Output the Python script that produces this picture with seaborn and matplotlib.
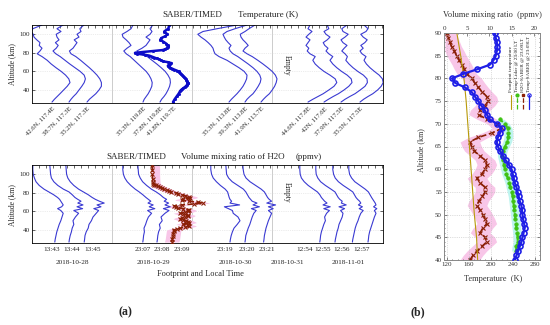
import numpy as np
import matplotlib
matplotlib.use("Agg")
import matplotlib.pyplot as plt
from matplotlib.ticker import MultipleLocator
import seaborn as sns

sns.set_theme(style="ticks")
plt.rcParams["font.family"] = ["Liberation Serif", "DejaVu Serif"]
plt.rcParams["axes.linewidth"] = 0.6

# altitude grids (km)
ALT_T = [27, 30, 33, 36, 40, 44, 48, 52, 56, 60, 64, 68, 72, 76, 79, 82, 85, 88, 91, 94, 97, 100, 103, 106, 110]
ALT_W = [27, 30, 34, 38, 42, 46, 50, 54, 58, 61, 63, 65, 67, 69, 71, 73, 75, 78, 81, 84, 88, 92, 96, 100, 105, 110]
ALT_B = list(range(40, 91))
ALT_L = list(range(42, 72))
ALT_F = [40, 45, 50, 55, 60, 65, 70, 75, 80, 85, 90]

# (a) top: SABER temperature profiles (K)
t_g1_a = [230, 236, 243, 250, 259, 268, 275, 272, 264, 253, 240, 228, 218, 205, 193, 200, 205, 198, 200, 192, 185, 183, 178, 182, 205]
t_g1_b = [230, 235, 241, 248, 255, 262, 268, 271, 268, 258, 245, 232, 220, 208, 197, 190, 198, 203, 196, 205, 200, 198, 210, 200, 215]
t_g1_c = [230, 236, 244, 252, 260, 266, 266, 262, 255, 246, 236, 225, 214, 202, 190, 186, 195, 200, 205, 198, 210, 205, 215, 212, 222]
t_g2_a = [230, 233, 238, 243, 248, 252, 253, 250, 245, 238, 228, 218, 208, 198, 188, 182, 190, 200, 195, 188, 180, 178, 190, 200, 205]
t_g2_b = [230, 234, 240, 245, 250, 254, 256, 255, 250, 243, 233, 222, 210, 198, 180, 172, 185, 195, 200, 205, 195, 205, 210, 205, 212]
t_g3_a = [230, 236, 243, 250, 258, 265, 270, 274, 275, 268, 255, 240, 225, 205, 195, 192, 190, 185, 178, 170, 160, 152, 165, 200, 250]
t_g3_b = [230, 235, 242, 250, 257, 263, 268, 270, 267, 260, 250, 238, 225, 212, 200, 193, 190, 195, 188, 182, 178, 175, 185, 205, 235]
t_g3_c = [230, 236, 243, 251, 258, 264, 268, 270, 266, 258, 247, 235, 222, 208, 195, 185, 190, 198, 192, 185, 180, 178, 190, 200, 215]
t_g5_a = [210, 222, 235, 248, 262, 275, 282, 278, 265, 250, 238, 228, 222, 228, 215, 208, 212, 205, 210, 215, 205, 212, 220, 210, 215]
t_g5_b = [210, 221, 233, 246, 260, 272, 280, 278, 268, 254, 242, 232, 225, 232, 222, 215, 220, 212, 208, 218, 225, 215, 210, 222, 218]
t_g5_c = [210, 220, 232, 245, 258, 270, 276, 275, 266, 252, 240, 230, 222, 226, 220, 212, 218, 225, 215, 210, 220, 228, 215, 212, 225]
t_g5_d = [210, 219, 230, 242, 254, 263, 268, 266, 258, 246, 235, 226, 220, 225, 215, 210, 218, 212, 222, 228, 218, 212, 225, 230, 220]

# (a) bottom: SABER H2O profiles (ppmv)
w_g1_a = [5.7, 5.8, 6.0, 6.2, 6.5, 6.8, 7.2, 7.5, 7.8, 7.2, 6.4, 7.4, 7.8, 7.5, 7.2, 6.9, 6.4, 5.4, 4.2, 3.0, 1.8, 1.0, 0.6, 0.3, 0.2, 0.2]
w_g1_b = [5.0, 5.1, 5.3, 5.6, 5.8, 6.2, 6.0, 6.6, 7.4, 6.2, 8.4, 7.0, 8.5, 7.2, 8.0, 7.2, 6.5, 5.8, 5.0, 3.6, 2.2, 1.2, 0.6, 0.4, 0.3, 0.2]
w_g1_c = [4.8, 4.9, 5.0, 5.3, 5.8, 6.0, 6.6, 7.0, 7.8, 8.4, 7.2, 9.0, 8.0, 9.8, 8.6, 7.6, 6.8, 5.8, 4.6, 3.4, 2.2, 1.3, 0.7, 0.4, 0.3, 0.2]
w_g2_a = [5.2, 5.3, 5.4, 5.6, 5.5, 5.9, 6.2, 6.6, 7.4, 6.4, 8.2, 6.8, 7.8, 6.5, 7.2, 6.6, 6.0, 5.2, 4.3, 3.3, 2.2, 1.3, 0.7, 0.35, 0.2, 0.2]
w_g2_b = [5.0, 5.1, 5.2, 5.4, 5.8, 5.6, 6.3, 6.0, 7.0, 8.0, 6.6, 8.3, 7.0, 7.9, 6.8, 7.4, 6.6, 5.8, 4.8, 3.6, 2.4, 1.4, 0.8, 0.4, 0.3, 0.2]
w_g3_a = [5.0, 5.1, 5.3, 5.6, 6.0, 6.8, 7.5, 7.0, 5.8, 5.6, 4.6, 3.6, 7.4, 5.0, 5.4, 5.0, 4.8, 4.6, 4.4, 3.8, 2.6, 1.6, 0.8, 0.4, 0.2, 0.2]
w_g3_b = [5.0, 5.1, 5.2, 5.5, 5.8, 6.2, 6.5, 6.8, 7.2, 7.8, 6.6, 8.6, 7.0, 8.0, 6.8, 6.4, 6.0, 5.6, 5.2, 4.6, 3.2, 1.8, 0.9, 0.4, 0.3, 0.2]
w_g3_c = [5.4, 5.5, 5.6, 5.8, 6.0, 6.3, 6.6, 7.0, 7.4, 6.6, 7.8, 6.6, 8.4, 6.2, 7.4, 6.8, 6.4, 6.0, 5.6, 4.8, 3.4, 2.0, 1.0, 0.5, 0.3, 0.2]
w_g5_a = [5.2, 5.3, 5.4, 5.6, 5.9, 6.2, 6.6, 6.4, 6.9, 7.6, 6.2, 7.8, 6.0, 7.0, 6.4, 6.0, 5.6, 5.2, 4.6, 3.6, 2.3, 1.3, 0.6, 0.3, 0.2, 0.2]
w_g5_b = [5.0, 5.1, 5.3, 5.5, 5.8, 6.0, 6.4, 6.8, 7.0, 6.4, 7.4, 6.0, 7.8, 6.6, 6.8, 6.2, 5.8, 5.4, 5.0, 4.0, 2.6, 1.4, 0.7, 0.3, 0.2, 0.2]
w_g5_c = [5.1, 5.2, 5.4, 5.6, 5.8, 6.1, 6.5, 6.8, 7.2, 7.8, 6.8, 7.6, 6.6, 7.2, 6.9, 6.4, 6.0, 5.6, 5.2, 4.2, 2.8, 1.6, 0.8, 0.4, 0.2, 0.2]
w_g5_d = [5.0, 5.1, 5.2, 5.4, 5.7, 6.0, 6.3, 6.6, 7.0, 6.6, 7.2, 6.4, 7.0, 6.8, 6.5, 6.2, 5.9, 5.5, 5.1, 4.3, 3.0, 1.7, 0.9, 0.4, 0.2, 0.2]

# (b) profiles at 23:09 LT, 1 km steps
T_SABER = [244, 247, 250, 253, 256, 258, 260, 262, 261, 259,
           258, 257, 256, 253, 251, 249, 247, 244, 242, 240,
           238, 233, 227, 222, 217, 213, 211, 213, 217, 220,
           211, 198, 193, 189, 183, 177, 171, 165, 153, 135,
           129, 150, 175, 198, 205, 209, 211, 212, 211, 209, 207]
W_SABER = [5.6, 6.3, 7.2, 8.3, 9.4, 9.0, 7.9, 8.5, 9.4, 9.0,
           8.5, 7.9, 7.2, 7.6, 8.4, 9.0, 9.0, 7.9, 7.2, 8.3,
           9.0, 9.4, 9.0, 7.8, 6.6, 6.0, 5.6, 7.5, 10.6, 12.8,
           11.7, 9.4, 7.6, 7.9, 9.0, 9.7, 9.4, 8.4, 7.5, 6.7,
           6.0, 4.9, 4.3, 3.8, 3.2, 2.6, 2.1, 1.5, 1.1, 0.7, 0.4]
T_LIDAR = [246, 247, 249, 249, 248, 247, 246, 245, 244, 243,
           242, 241, 240, 238, 236, 234, 231, 228, 226, 224,
           222, 220, 222, 226, 230, 232, 232, 231, 226, 216]
T_FOOT = [176, 174, 170, 167, 164, 161, 158, 155, 151, 145, 138]

# the 23:09 profiles continued outside 40-90 km for panel (a)
ALT_LOW = [27, 30, 33, 36, 39]
T_SABER_LOW = [224, 228, 233, 238, 242]
W_SABER_LOW = [5.0, 5.2, 5.3, 5.4, 5.5]
ALT_T_HIGH = [92, 94, 96, 98, 100, 103, 106, 110]
T_SABER_HIGH = [200, 192, 195, 205, 210, 202, 212, 215]
ALT_W_HIGH = [92, 95, 100, 105, 110]
W_SABER_HIGH = [0.3, 0.25, 0.2, 0.2, 0.2]

LAT_LABELS = ["42.6N, 117.4E", "38.7N, 117.3E", "35.2N, 117.3E",
              "35.3N, 119.8E", "37.8N, 119.8E", "41.8N, 119.7E",
              "35.3N, 113.8E", "39.3N, 113.8E", "41.9N, 113.7E",
              "44.6N, 117.8E", "42N, 117.6E", "37.9N, 117.5E", "35.5N, 117.5E"]
TIME_LABELS = ["13:43", "13:44", "13:45", "23:07", "23:08", "23:09",
               "23:19", "23:20", "23:21", "12:54", "12:55", "12:56", "12:57"]
DATES = ["2018-10-28", "2018-10-29", "2018-10-30", "2018-10-31", "2018-11-01"]

W, H = 550, 325


def fx(px):
    return px / W


def fy(py):
    return 1 - py / H


blue = "#3a3ad2"
dblue = "#0b0bc8"
sblue = "#1f1fe6"
brown = "#8a1f05"
green = "#3fc214"
olive = "#b89a0a"
pink = "#f8c6e8"

fig = plt.figure(figsize=(5.5, 3.25), dpi=100)


def frame(ax, xmax, dividers, minor_step):
    ax.set_xlim(0, xmax)
    ax.set_ylim(26, 110)
    ax.set_yticks([40, 60, 80, 100])
    for xv in dividers:
        ax.axvline(xv, color="#c4c4c4", lw=0.6, zorder=0)
    for yv in [40, 60, 80, 100]:
        ax.axhline(yv, color="#dadada", lw=0.5, ls=":", zorder=0)
    ax.xaxis.set_minor_locator(MultipleLocator(minor_step))
    ax.tick_params(axis="x", which="major", length=0, labelsize=5, pad=2)
    ax.tick_params(axis="x", which="minor", bottom=False, top=True,
                   direction="in", length=1.8, width=0.5)
    ax.tick_params(axis="y", which="major", left=True, right=True,
                   direction="in", length=2, width=0.5, labelsize=5, pad=1.5)
    ax.set_xlabel("")
    ax.set_ylabel("")
    for s in ax.spines.values():
        s.set_linewidth(0.6)
        s.set_color("black")


def prof(ax, x, alt, **kw):
    sns.lineplot(x=x, y=alt, orient="y", estimator=None, ax=ax, legend=False, **kw)


# ---- (a) top: temperature, x in K units (offset profiles) ----
ax_t = fig.add_axes([fx(32), fy(103), fx(383) - fx(32), fy(25) - fy(103)])
thin_t = [t_g1_a, t_g1_b, t_g1_c, t_g2_a, t_g2_b, t_g3_a, t_g3_b, t_g3_c,
          t_g5_a, t_g5_b, t_g5_c, t_g5_d]
thin_tb = [50, 92.5, 137.5, 277.5, 320, 492.5, 532.5, 572.5, 690, 730, 772.5, 820]
for t, b in zip(thin_t, thin_tb):
    prof(ax_t, np.array(t) - t[0] + b, ALT_T, color=blue, lw=0.8)
alt_thick = ALT_LOW + ALT_B + ALT_T_HIGH
t_thick = np.array(T_SABER_LOW + T_SABER + T_SABER_HIGH)
prof(ax_t, t_thick - t_thick[0] + 352.5, alt_thick, color=dblue, lw=1.8,
     marker="o", markersize=1.6, markeredgecolor=dblue, markeredgewidth=0.6)
frame(ax_t, 877.5, [200, 400, 600], 17.5)
ax_t.set_xticks([50, 92.5, 137.5, 277.5, 320, 352.5, 492.5, 532.5, 572.5,
                 690, 730, 772.5, 820])
ax_t.set_xticklabels(LAT_LABELS, rotation=45, ha="right", va="top",
                     rotation_mode="anchor", fontsize=4.8)
ax_t.text(637.5, 67, "Empty", rotation=270, ha="center", va="center", fontsize=5.5)

# ---- (a) bottom: H2O, x in ppmv units (offset profiles) ----
ax_w = fig.add_axes([fx(32), fy(243), fx(383) - fx(32), fy(165) - fy(243)])
thin_w = [w_g1_a, w_g1_b, w_g1_c, w_g2_a, w_g2_b, w_g3_a, w_g3_b, w_g3_c,
          w_g5_a, w_g5_b, w_g5_c, w_g5_d]
thin_wo = [0, 4.25, 8.25, 22.5, 26.25, 44.5, 48.25, 52.5, 66.75, 70.75, 75, 79]
for w, o in zip(thin_w, thin_wo):
    prof(ax_w, np.array(w) + o, ALT_W, color=blue, lw=0.8)
alt_br = np.array(ALT_LOW + ALT_B + ALT_W_HIGH)
w_br = np.array(W_SABER_LOW + W_SABER + W_SABER_HIGH)
ax_w.fill_betweenx(alt_br, np.clip(w_br - 1.8, 0, None) + 29.9, w_br + 1.8 + 29.9,
                   color=pink, lw=0, zorder=1)
prof(ax_w, w_br + 29.9, alt_br, color=brown, lw=1.1, linestyle="--",
     marker="x", markersize=2.2, markeredgecolor=brown, markeredgewidth=0.8, zorder=3)
frame(ax_w, 87.75, [20, 40, 60], 1.75)
ax_w.set_xticks([5, 10, 15.25, 27.75, 32.5, 37.5, 48.25, 53.75, 58.75,
                 68.25, 72.75, 77.5, 82.5])
ax_w.set_xticklabels(TIME_LABELS, fontsize=5.2)
ax_w.tick_params(axis="x", which="major", pad=3)
for d, xd in zip(DATES, [10, 30.25, 50.75, 63.75, 79]):
    ax_w.text(xd, -0.255, d, transform=ax_w.get_xaxis_transform(),
              ha="center", va="center", fontsize=5.2)
ax_w.text(63.75, 80, "Empty", rotation=270, ha="center", va="center", fontsize=5.5)

fig.text(fx(192), fy(15), "SABER/TIMED", ha="center", va="center", fontsize=6.5)
fig.text(fx(268), fy(15), "Temperature (K)", ha="center", va="center", fontsize=6.5)
fig.text(fx(136), fy(157), "SABER/TIMED", ha="center", va="center", fontsize=6.5)
fig.text(fx(233), fy(157), "Volume mixing ratio of H2O", ha="center", va="center", fontsize=6.5)
fig.text(fx(309), fy(157), "(ppmv)", ha="center", va="center", fontsize=6.5)
fig.text(fx(12), fy(64), "Altitude (km)", rotation=90, ha="center", va="center", fontsize=5.5)
fig.text(fx(12), fy(205), "Altitude (km)", rotation=90, ha="center", va="center", fontsize=5.5)
fig.text(fx(200), fy(274), "Footprint and Local Time", ha="center", va="center", fontsize=6)

# ---- (b) single profile comparison ----
ax_b = fig.add_axes([fx(444), fy(260), fx(540) - fx(444), fy(33) - fy(260)])
ax_v = ax_b.twiny()
ax_b.set_zorder(ax_v.get_zorder() + 1)
ax_b.patch.set_visible(False)

w_s = np.array(W_SABER)
ax_v.fill_betweenx(ALT_B, np.clip(w_s - 2.2, 0, None), w_s + 2.2, color=pink, lw=0, zorder=1)
prof(ax_v, w_s, ALT_B, color=brown, lw=1.2, linestyle="--",
     marker="x", markersize=2.4, markeredgecolor=brown, markeredgewidth=0.8, zorder=3)
ax_v.set_xlim(-0.22, 21.35)
ax_v.set_xticks([0, 5, 10, 15, 20])
ax_v.xaxis.set_minor_locator(MultipleLocator(1))
ax_v.tick_params(axis="x", which="both", top=True, bottom=False, direction="in",
                 labelsize=5, pad=1.5, width=0.5, colors="#555555", labelcolor="#333333")
ax_v.tick_params(axis="x", which="major", length=2)
ax_v.tick_params(axis="x", which="minor", length=1)
ax_v.set_xlabel("")
ax_v.set_ylabel("")

t_l = np.array(T_LIDAR)
ax_b.fill_betweenx(ALT_L, t_l - 8, t_l + 8, color="#bff4ef", lw=0, zorder=1)
prof(ax_b, T_FOOT, ALT_F, color=olive, lw=0.8, zorder=2)
prof(ax_b, T_LIDAR, ALT_L, color=green, lw=1.4, linestyle="--",
     marker="o", markersize=2.6, markeredgecolor=green, markeredgewidth=0.4, zorder=3)
prof(ax_b, T_SABER, ALT_B, color=sblue, lw=1.6, marker="o", markersize=3.6,
     markerfacecolor="none", markeredgecolor=sblue, markeredgewidth=1.2, zorder=4)
ax_b.set_xlim(114.5, 290)
ax_b.set_ylim(40, 90)
ax_b.set_xticks([120, 160, 200, 240, 280])
ax_b.set_yticks(range(40, 91, 5))
ax_b.xaxis.set_minor_locator(MultipleLocator(10))
ax_b.yaxis.set_minor_locator(MultipleLocator(1))
ax_b.tick_params(axis="both", which="both", direction="in", width=0.5,
                 colors="#555555", labelcolor="#333333", labelsize=5, pad=1.5)
ax_b.tick_params(axis="x", which="both", top=False)
ax_b.tick_params(axis="y", which="both", right=True)
ax_b.tick_params(which="major", length=2)
ax_b.tick_params(which="minor", length=1)
ax_b.grid(True, ls=":", lw=0.5, color="#bdbdbd")
ax_b.set_xlabel("")
ax_b.set_ylabel("")
for a in (ax_b, ax_v):
    for s in a.spines.values():
        s.set_linewidth(0.6)
        s.set_color("#888888")

# rotated legend
leg_labels = ["Footprint temperature", "Temp-Lidar @ 23:00 LT",
              "H2O-SABER @ 23:09LT", "Temp-SABER @ 23:09LT"]
leg_x = [0.70, 0.763, 0.826, 0.889]
ax_b.plot([leg_x[0]] * 2, [0.665, 0.725], transform=ax_b.transAxes, color=olive, lw=0.8)
ax_b.plot([leg_x[1]] * 2, [0.665, 0.725], transform=ax_b.transAxes, color=green,
          lw=0.9, ls="--", marker="o", markevery=[1], ms=2)
ax_b.plot([leg_x[2]] * 2, [0.665, 0.725], transform=ax_b.transAxes, color=brown,
          lw=0.9, ls="--", marker="s", markevery=[1], ms=1.8)
ax_b.plot([leg_x[3]] * 2, [0.665, 0.725], transform=ax_b.transAxes, color=sblue,
          lw=0.9, marker="o", markevery=[1], ms=2.4, mfc="none", mew=0.8)
for lx, lab in zip(leg_x, leg_labels):
    ax_b.text(lx, 0.74, lab, transform=ax_b.transAxes, rotation=90,
              ha="center", va="bottom", fontsize=3.8, color="#222222")

fig.text(fx(492), fy(15), "Volume mixing ratio  (ppmv)", ha="center", va="center",
         fontsize=6, color="#333333")
fig.text(fx(493), fy(279), "Temperature  (K)", ha="center", va="center",
         fontsize=6, color="#333333")
fig.text(fx(421), fy(150), "Altitude (km)", rotation=90, ha="center", va="center",
         fontsize=5.8, color="#333333")

fig.text(fx(125), fy(312), "(a)", ha="center", va="center", fontsize=8.5, fontweight="bold")
fig.text(fx(418), fy(312), "(b)", ha="center", va="center", fontsize=8.5, fontweight="bold")

fig.savefig("out.png", dpi=100, facecolor="white")
